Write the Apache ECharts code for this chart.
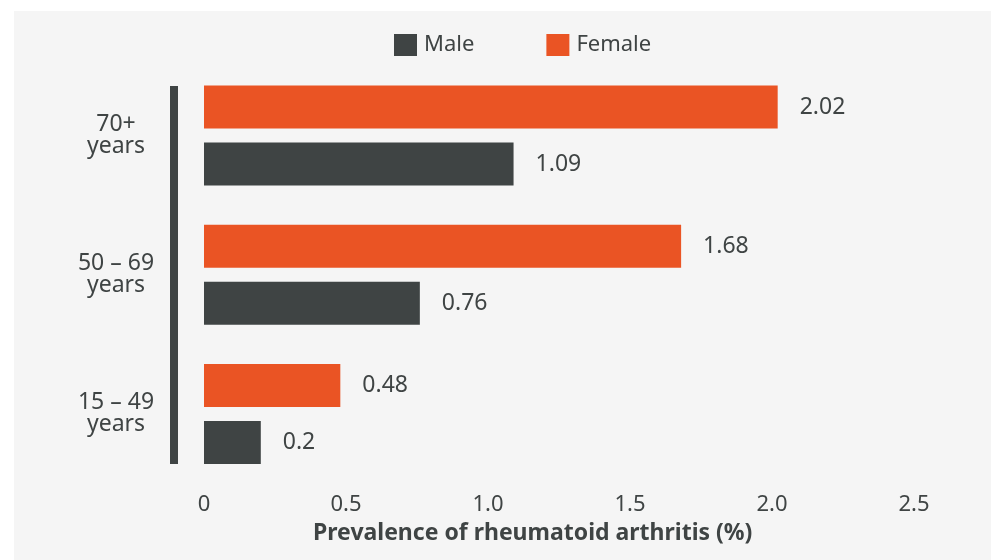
<!DOCTYPE html>
<html>
<head>
<meta charset="utf-8">
<script src="https://cdn.jsdelivr.net/npm/echarts@6.0.0/dist/echarts.min.js"></script>
<style>
  html, body { margin: 0; padding: 0; background: #fff; }
  #panel { position: absolute; left: 14px; top: 11px; right: 0; bottom: 0; background: #f5f5f5; }
  #chart { position: absolute; left: 0; top: 0; width: 991px; height: 560px; }
</style>
</head>
<body>
<div id="panel"></div>
<div id="chart"></div>
<script>
  // categories listed bottom -> top (category axis starts at the bottom)
  const ageGroups = ["15 – 49\nyears", "50 – 69\nyears", "70+\nyears"];
  const maleValues = [0.2, 0.76, 1.09];
  const femaleValues = [0.48, 1.68, 2.02];
  const xTicks = [0, 0.5, 1.0, 1.5, 2.0, 2.5];

  const DARK = "#3f4444";
  const ORANGE = "#ea5424";
  const FONT = "Noto Sans";

  const chart = echarts.init(document.getElementById("chart"), null, { renderer: "canvas" });

  const barLabel = {
    show: true,
    position: "right",
    distance: 22,
    color: DARK,
    fontFamily: FONT,
    fontSize: 23,
    formatter: (p) => String(p.value),
  };

  chart.setOption({
    backgroundColor: "transparent",
    textStyle: { fontFamily: FONT, color: DARK },
    animation: false,
    title: {
      text: "Prevalence of rheumatoid arthritis (%)",
      left: 313,
      top: 521,
      padding: 0,
      textStyle: { fontFamily: FONT, fontSize: 23, fontWeight: "bold", color: DARK, lineHeight: 24 },
    },
    legend: {
      left: 394,
      top: 34,
      padding: 0,
      itemWidth: 23,
      itemHeight: 22,
      itemGap: 72,
      icon: "rect",
      data: ["Male", "Female"],
      textStyle: { fontFamily: FONT, fontSize: 22, color: DARK, padding: [0, 0, 0, 2] },
    },
    grid: { left: 204, right: 77, top: 66, bottom: 76.5, containLabel: false },
    xAxis: {
      type: "value",
      min: xTicks[0],
      max: xTicks[xTicks.length - 1],
      interval: 0.5,
      axisLine: { show: false },
      axisTick: { show: false },
      splitLine: { show: false },
      axisLabel: {
        margin: 10,
        color: DARK,
        fontFamily: FONT,
        fontSize: 22,
        formatter: (v) => (v === 0 ? "0" : v.toFixed(1)),
      },
    },
    yAxis: {
      type: "category",
      data: ageGroups,
      axisLine: { show: false },
      axisTick: { show: false },
      axisLabel: {
        margin: 88,
        align: "center",
        color: DARK,
        fontFamily: FONT,
        fontSize: 23,
        lineHeight: 22,
      },
    },
    graphic: [
      // vertical marker bar left of the bars
      { type: "rect", left: 170, top: 86, shape: { width: 8, height: 378 }, style: { fill: DARK } },
    ],
    // Female listed first so it sits above Male inside each group
    series: [
      {
        name: "Female",
        type: "bar",
        data: femaleValues,
        barWidth: 43,
        barGap: "32.5%",
        itemStyle: { color: ORANGE },
        label: barLabel,
      },
      {
        name: "Male",
        type: "bar",
        data: maleValues,
        barWidth: 43,
        barGap: "32.5%",
        itemStyle: { color: DARK },
        label: barLabel,
      },
    ],
  });
</script>
</body>
</html>
